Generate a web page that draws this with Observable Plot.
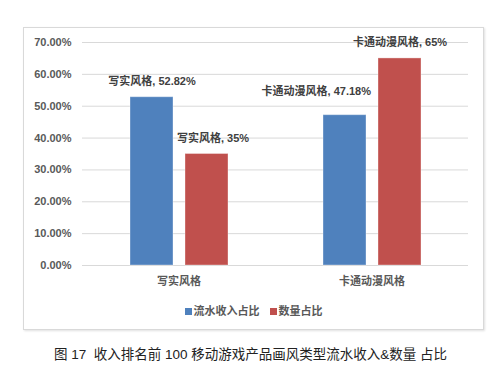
<!DOCTYPE html>
<html>
<head>
<meta charset="utf-8">
<script src="https://cdn.jsdelivr.net/npm/d3@7"></script>
<script src="https://cdn.jsdelivr.net/npm/@observablehq/plot@0.6"></script>
<style>
  html, body { margin: 0; padding: 0; background: #fff; width: 493px; height: 367px; overflow: hidden; }
  body { position: relative; font-family: "Liberation Sans", "Noto Sans CJK SC", sans-serif; }
  #frame { position: absolute; left: 23px; top: 27px; width: 459px; height: 301px; border: 1px solid #d9d9d9; box-shadow: 1px 1px 2px rgba(0,0,0,0.12); background: #fff; }
  #chart { position: absolute; left: 0; top: 0; }
  #legend { position: absolute; left: 0; width: 459px; top: 276px; text-align: center; font-size: 11px; font-weight: bold; color: #595959; line-height: 14px; }
  #legend .item { display: inline-block; margin: 0 5px; }
  #legend .sw { display: inline-block; width: 7px; height: 7px; margin-right: 2px; vertical-align: 0px; }
  #caption { position: absolute; left: 0; width: 501px; top: 343px; text-align: center; font-size: 13.5px; color: #222; font-family: "Liberation Sans", "Noto Sans CJK SC", sans-serif; }
</style>
</head>
<body>
<div id="frame">
  <div id="chart"></div>
  <div id="legend"></div>
</div>
<div id="caption">图 17&nbsp; 收入排名前 100 移动游戏产品画风类型流水收入&amp;数量 占比</div>
<script>
const categories = ["写实风格", "卡通动漫风格"];
const seriesNames = ["流水收入占比", "数量占比"];
const revenueShare = [52.82, 47.18];
const countShare = [35, 65];
const yTicks = [0, 10, 20, 30, 40, 50, 60, 70];
const colors = ["#4F81BD", "#C0504D"];

const data = [];
categories.forEach((c, i) => {
  data.push({cat: c, series: seriesNames[0], value: revenueShare[i]});
  data.push({cat: c, series: seriesNames[1], value: countShare[i]});
});
const labelText = d => `${d.cat}, ${d.value}%`;

const isBlue2 = d => d.cat === categories[1] && d.series === seriesNames[0];
const isRed1 = d => d.cat === categories[0] && d.series === seriesNames[1];

const chart = Plot.plot({
  width: 459,
  height: 268,
  marginLeft: 58,
  marginRight: 15,
  marginTop: 14,
  marginBottom: 31,
  style: {fontFamily: '"Liberation Sans", "Noto Sans CJK SC", sans-serif', fontSize: "11px", background: "transparent"},
  fx: {domain: categories, padding: 0, label: null, axis: "bottom", tickSize: 0, tickPadding: 12},
  x: {domain: seriesNames, paddingInner: 0.22, paddingOuter: 0.86, axis: null},
  y: {domain: [0, 70], ticks: yTicks, tickFormat: d => d.toFixed(2) + "%", tickSize: 0, tickPadding: 11, label: null},
  color: {domain: seriesNames, range: colors},
  marks: [
    Plot.gridY(yTicks, {stroke: "#d9d9d9", strokeOpacity: 1, strokeWidth: 1}),
    Plot.barY(data, {fx: "cat", x: "series", y: "value", fill: "series", stroke: "#ffffff", strokeOpacity: 0.35, strokeWidth: 1}),
    Plot.text(data.filter(d => !isBlue2(d) && !isRed1(d)), {fx: "cat", x: "series", y: "value", text: labelText, dy: -16, fill: "#404040", fontWeight: "bold"}),
    Plot.text(data.filter(isRed1), {fx: "cat", x: "series", y: "value", text: labelText, dy: -16, dx: 6, fill: "#404040", fontWeight: "bold"}),
    Plot.text(data.filter(isBlue2), {fx: "cat", x: "series", y: "value", text: labelText, dy: -24, dx: 26, textAnchor: "end", fill: "#404040", fontWeight: "bold"})
  ]
});
chart.querySelectorAll('[aria-label="fx-axis tick label"] text, [aria-label="y-axis tick label"] text').forEach(t => {
  t.setAttribute("font-weight", "bold");
  t.setAttribute("fill", "#595959");
});
chart.querySelectorAll('[aria-label="fx-axis tick label"], [aria-label="y-axis tick label"]').forEach(g => {
  g.setAttribute("font-weight", "bold");
  g.setAttribute("fill", "#595959");
});
document.getElementById("chart").appendChild(chart);

const legend = document.getElementById("legend");
seriesNames.forEach((s, i) => {
  const item = document.createElement("span");
  item.className = "item";
  const sw = document.createElement("span");
  sw.className = "sw";
  sw.style.background = colors[i];
  item.appendChild(sw);
  item.appendChild(document.createTextNode(s));
  legend.appendChild(item);
});
</script>
</body>
</html>
